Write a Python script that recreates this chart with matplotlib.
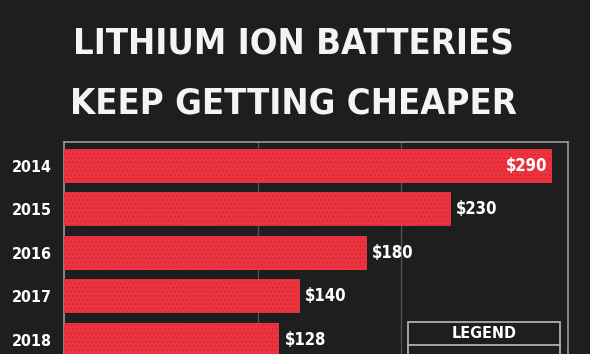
import matplotlib.pyplot as plt
from matplotlib.patches import Rectangle
from matplotlib.lines import Line2D

years = ["2014", "2015", "2016", "2017", "2018"]
prices = [290, 230, 180, 140, 128]
price_labels = ["$290", "$230", "$180", "$140", "$128"]
grid_vals = [115, 200]

bg = "#1e1e1e"
red = "#ee3340"
narrow = ["DejaVu Sans Condensed", "Liberation Sans Narrow", "DejaVu Sans"]

plt.rcParams["hatch.linewidth"] = 0.6

W, H = 590, 354
fig = plt.figure(figsize=(W / 100, H / 100), dpi=100, facecolor=bg)

# axes placed in pixel terms, runs off the bottom of the picture
left, right, top, bottom = 64, 568, 142, 381
ax = fig.add_axes([left / W, 1 - bottom / H, (right - left) / W, (bottom - top) / H])
ax.set_facecolor("none")

y = list(range(len(years)))
ax.barh(y, prices, height=0.78, color=red, edgecolor="#c92a35",
        hatch="....", linewidth=0, zorder=3)
for gv in grid_vals:
    ax.axvline(gv, color="#555555", linewidth=0.9, zorder=1)

ax.set_xlim(0, 299.5)
ax.set_ylim(4.95, -0.55)
ax.set_yticks(y)
ax.set_yticklabels(years, fontsize=11.5, fontweight="bold", color="white",
                   family=narrow, fontstretch="condensed")
ax.tick_params(axis="y", length=0, pad=9)
ax.set_xticks([])
for s in ["top", "left", "right"]:
    ax.spines[s].set_color("#9a9a9a")
    ax.spines[s].set_linewidth(1.2)
ax.spines["bottom"].set_visible(False)

for i, (v, lab) in enumerate(zip(prices, price_labels)):
    if i == 0:
        ax.text(v - 3, i, lab, ha="right", va="center", color="white",
                fontsize=12, fontweight="bold", family=narrow,
                fontstretch="condensed", zorder=5)
    else:
        ax.text(v + 3, i, lab, ha="left", va="center", color="white",
                fontsize=12, fontweight="bold", family=narrow,
                fontstretch="condensed", zorder=5)

titles = []
for txt, ypx in [("LITHIUM ION BATTERIES", 43), ("KEEP GETTING CHEAPER", 104)]:
    titles.append(fig.text(0.497, 1 - ypx / H, txt, ha="center", va="center",
                           color="#f4f4f4", fontsize=30, fontweight="bold",
                           family=narrow, fontstretch="condensed"))

# fit first title line to ~440 px wide, same size for both lines
renderer = fig.canvas.get_renderer()
w = titles[0].get_window_extent(renderer).width
size = 30 * 440 / w
for t in titles:
    t.set_fontsize(size)

# legend box (cut off at the bottom)
fig.patches.append(Rectangle((408 / W, -0.05), (560 - 408) / W, (0.05 + 1 - 322 / H),
                             transform=fig.transFigure, fill=False,
                             edgecolor="#bbbbbb", linewidth=1.2, zorder=6))
fig.lines.append(Line2D([408 / W, 560 / W], [1 - 345 / H, 1 - 345 / H],
                        transform=fig.transFigure, color="#bbbbbb", linewidth=1.2))
fig.text(484 / W, 1 - 334 / H, "LEGEND", ha="center", va="center", color="white",
         fontsize=11.5, fontweight="bold", family=narrow, fontstretch="condensed")

fig.savefig("out.png", dpi=100, facecolor=bg)
